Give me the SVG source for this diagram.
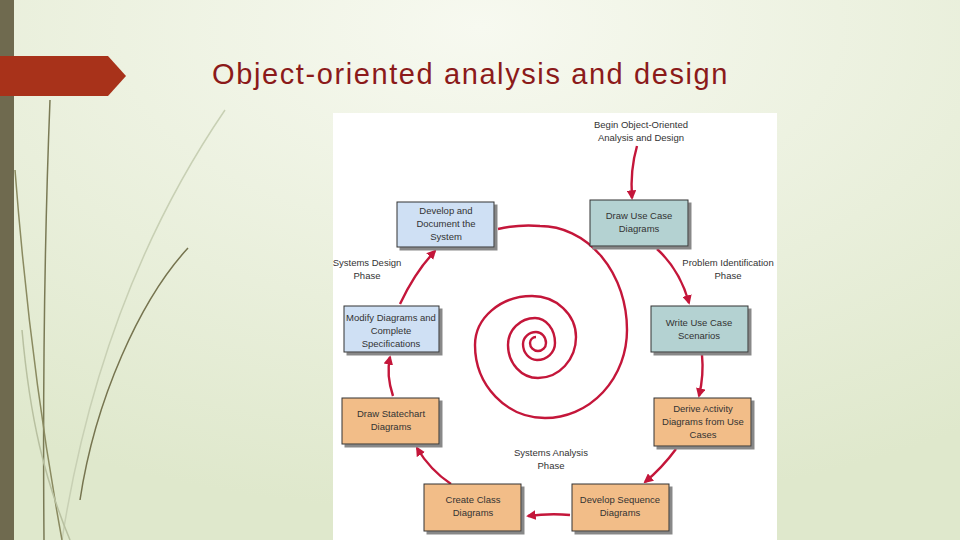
<svg xmlns="http://www.w3.org/2000/svg" width="960" height="540" viewBox="0 0 960 540">
<defs>
<radialGradient id="bg" cx="0.5" cy="0.05" r="0.9">
<stop offset="0" stop-color="#f7f9f0"/><stop offset="1" stop-color="#dfe8cc"/>
</radialGradient>
<marker id="ah" viewBox="0 0 10 10" refX="8" refY="5" markerWidth="4" markerHeight="4" orient="auto">
<path d="M0,0 L10,5 L0,10 Z" fill="#c4163a"/>
</marker>
<filter id="sh" x="-10%" y="-10%" width="130%" height="130%"><feOffset dx="3" dy="3" in="SourceAlpha" result="o"/><feFlood flood-color="#888"/><feComposite in2="o" operator="in"/><feMerge><feMergeNode/><feMergeNode in="SourceGraphic"/></feMerge></filter>
</defs>
<style>
.box{stroke:#333;stroke-width:1;filter:url(#sh)}
.blue{fill:#cfe0f4}.teal{fill:#b4d2d2}.org{fill:#f2bd88}
.t{font-family:"Liberation Sans",Arial,sans-serif;font-size:9.5px;fill:#333;text-anchor:middle}
.c{fill:none;stroke:#c4163a;stroke-width:2.4;marker-end:url(#ah)}
.deco{fill:none;stroke-width:1.5}
</style>
<rect width="960" height="540" fill="url(#bg)"/>
<rect x="0" y="0" width="14" height="540" fill="#6f6a4f"/>
<g class="deco">
<path d="M50,100 Q42,300 44,540" stroke="#7a7a55"/>
<path d="M225,110 C150,220 90,360 62,540" stroke="#c8d0b4"/>
<path d="M188,248 C140,300 95,400 80,500" stroke="#76744f"/>
<path d="M15,170 C25,300 40,420 62,540" stroke="#8a8a60"/>
<path d="M22,330 C30,420 45,480 70,540" stroke="#b8c0a0"/>
</g>
<path d="M0,56 L108,56 L126,76 L108,96 L0,96 Z" fill="#a8321a"/>
<text x="212" y="84" font-family="Liberation Sans,Arial,sans-serif" font-size="29" letter-spacing="1.6" fill="#8b1a1a">Object-oriented analysis and design</text>
<rect x="333" y="113" width="444" height="427" fill="#ffffff"/>
<g id="connectors">
<path d="M498,229 Q520,224 540,226 A87,104 0 0 1 627,330 A82,88 0 0 1 545,418 A70,73 0 0 1 475,345 A57,49 0 0 1 532,296 A44,41 0 0 1 576,337 A38,41 0 0 1 538,378 A30,33 0 0 1 508,345 A27,27 0 0 1 535,318 A20,25 0 0 1 555,343 A18,17 0 0 1 537,360 A14,16 0 0 1 523,344 A13,12 0 0 1 536,332 A10,11 0 0 1 546,343 A8,8 0 0 1 538,351 A8,8 0 0 1 530,343 A6,6 0 0 1 536,337" fill="none" stroke="#c4163a" stroke-width="2.4"/>
<path class="c" d="M637,146 Q630,170 632,198"/>
<path class="c" d="M657,249 Q680,270 689,303"/>
<path class="c" d="M702,355 Q704,375 699,396"/>
<path class="c" d="M676,449 Q662,468 645,482"/>
<path class="c" d="M570,515 Q550,513 528,516"/>
<path class="c" d="M451,484 Q430,470 417,448"/>
<path class="c" d="M393,396 Q386,375 390,357"/>
<path class="c" d="M400,304 Q415,272 435,251"/>
</g>
<g id="lbl-begin"><text class="t" x="641" y="128">Begin Object-Oriented</text><text class="t" x="641" y="141">Analysis and Design</text></g>
<g id="lbl-prob"><text class="t" x="728" y="266">Problem Identification</text><text class="t" x="728" y="279">Phase</text></g>
<g id="lbl-design"><text class="t" x="367" y="266">Systems Design</text><text class="t" x="367" y="279">Phase</text></g>
<g id="lbl-analysis"><text class="t" x="551" y="456">Systems Analysis</text><text class="t" x="551" y="469">Phase</text></g>
<g id="n-develop"><rect class="box blue" x="397" y="202" width="97" height="45"/><text class="t" x="446" y="214">Develop and</text><text class="t" x="446" y="227">Document the</text><text class="t" x="446" y="240">System</text></g>
<g id="n-usecase"><rect class="box teal" x="590" y="200" width="98" height="46"/><text class="t" x="639" y="219">Draw Use Case</text><text class="t" x="639" y="232">Diagrams</text></g>
<g id="n-modify"><rect class="box blue" x="344" y="306" width="95" height="46"/><text class="t" x="391" y="321">Modify Diagrams and</text><text class="t" x="391" y="334">Complete</text><text class="t" x="391" y="347">Specifications</text></g>
<g id="n-scenario"><rect class="box teal" x="651" y="306" width="97" height="46"/><text class="t" x="699" y="326">Write Use Case</text><text class="t" x="699" y="339">Scenarios</text></g>
<g id="n-statechart"><rect class="box org" x="342" y="398" width="97" height="46"/><text class="t" x="391" y="417">Draw Statechart</text><text class="t" x="391" y="430">Diagrams</text></g>
<g id="n-activity"><rect class="box org" x="654" y="398" width="97" height="48"/><text class="t" x="703" y="412">Derive Activity</text><text class="t" x="703" y="425">Diagrams from Use</text><text class="t" x="703" y="438">Cases</text></g>
<g id="n-class"><rect class="box org" x="424" y="484" width="97" height="47"/><text class="t" x="473" y="503">Create Class</text><text class="t" x="473" y="516">Diagrams</text></g>
<g id="n-sequence"><rect class="box org" x="572" y="484" width="97" height="47"/><text class="t" x="620" y="503">Develop Sequence</text><text class="t" x="620" y="516">Diagrams</text></g>
</svg>
